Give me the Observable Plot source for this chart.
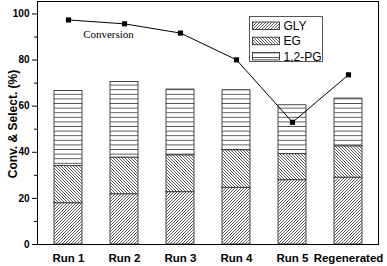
<!DOCTYPE html>
<html><head><meta charset="utf-8">
<script src="https://cdn.jsdelivr.net/npm/d3@7"></script>
<script src="https://cdn.jsdelivr.net/npm/@observablehq/plot@0.6"></script>
<style>
body{margin:0;background:#fff;}
#chart svg{display:block;}
</style></head><body><div id="chart"></div>
<script>
const runs = ["Run 1","Run 2","Run 3","Run 4","Run 5","Regenerated"];
const series = ["GLY","EG","1,2-PG"];
const gly = [17.9, 21.8, 22.7, 24.6, 27.9, 29.0];
const eg  = [16.1, 15.9, 16.0, 16.3, 11.3, 13.6];
const pg  = [32.6, 32.8, 28.5, 26.0, 21.2, 20.7];
const conversion = [97.4, 95.7, 91.7, 80.1, 53.0, 73.6];
const majorTicks = [0, 20, 40, 60, 80, 100];
const minorTicks = [10, 30, 50, 70, 90];

const segs = {"GLY": gly, "EG": eg, "1,2-PG": pg};
const rows = runs.flatMap((r, i) => series.map(s => ({run: r, s, v: segs[s][i]})));
const conv = runs.map((r, i) => ({run: r, v: conversion[i]}));
const fillIds = {"GLY": "url(#hGLY)", "EG": "url(#hEG)", "1,2-PG": "url(#hPG)"};

const plot = Plot.plot({
  width: 387, height: 266,
  marginLeft: 37, marginRight: 9, marginTop: 1, marginBottom: 22,
  style: {fontFamily: "'Liberation Sans', Arial, sans-serif", fontSize: "10px", background: "#fff", color: "#000"},
  x: {domain: runs, paddingInner: 0.5, paddingOuter: 0.25, label: null},
  y: {domain: [0, 105.4], label: null},
  color: {domain: series, range: series.map(s => fillIds[s])},
  marks: [
    Plot.barY(rows, {x: "run", y: "v", fill: "s", stroke: "#333", strokeWidth: 0.9, order: series}),
    Plot.line(conv, {x: "run", y: "v", stroke: "#000", strokeWidth: 1}),
    Plot.dot(conv, {x: "run", y: "v", symbol: "square", r: 2.9, fill: "#000", stroke: "none"}),
    Plot.text([conv[1]], {x: "run", y: "v", text: () => "Conversion", dx: -16, dy: 11,
      fontFamily: "'Liberation Serif', 'Times New Roman', serif", fontSize: 11}),
    Plot.axisY({ticks: majorTicks, tickSize: 5, tickPadding: 3, fontWeight: "bold", fontSize: 10, label: null}),
    Plot.axisY({ticks: minorTicks, tickSize: 3, tickFormat: () => "", label: null}),
    Plot.text(["Conv. & Select. (%)"], {frameAnchor: "left", textAnchor: "middle", text: d => d, rotate: -90,
      dx: -24, dy: 1, fontWeight: "bold", fontSize: 12}),
    Plot.axisX({tickSize: 0, tickPadding: 9, fontWeight: "bold", fontSize: 11.5, label: null}),
    Plot.frame({stroke: "#000", strokeWidth: 1})
  ]
});

const svg = d3.select(plot);
const defs = svg.insert("defs", ":first-child");
function pat(id, w, h, d) {
  const p = defs.append("pattern").attr("id", id).attr("patternUnits", "userSpaceOnUse")
    .attr("width", w).attr("height", h);
  p.append("rect").attr("width", w).attr("height", h).attr("fill", "#fff");
  p.append("path").attr("d", d).attr("stroke", "#333").attr("stroke-width", 0.8).attr("fill", "none");
}
pat("hGLY", 3, 3, "M-1,1 l2,-2 M0,3 l3,-3 M2,4 l2,-2");
pat("hEG", 3, 3, "M-1,2 l2,2 M0,0 l3,3 M2,-1 l2,2");
pat("hPG", 4, 4.6, "M0,2.3 H4");

// legend inside plot area
const lg = svg.append("g").attr("class", "legend");
lg.append("rect").attr("x", 249.5).attr("y", 16.5).attr("width", 73).attr("height", 45)
  .attr("fill", "#fff").attr("stroke", "#444").attr("stroke-width", 0.9);
series.forEach((s, i) => {
  const y = 22 + i * 15.2;
  lg.append("rect").attr("x", 252.5).attr("y", y).attr("width", 27).attr("height", 7.5)
    .attr("fill", fillIds[s]).attr("stroke", "#333").attr("stroke-width", 0.9);
  lg.append("text").attr("x", 283.5).attr("y", y + 3.9).attr("dy", "0.35em")
    .attr("text-anchor", "start")
    .attr("font-family", "'Liberation Sans', Arial, sans-serif").attr("font-size", 12).text(s);
});

document.getElementById("chart").append(plot);
</script></body></html>
